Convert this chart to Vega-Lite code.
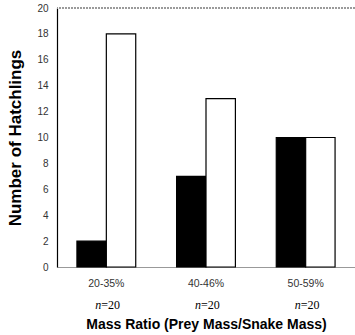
{
  "$schema": "https://vega.github.io/schema/vega-lite/v6.json",
  "autosize": {"type": "none"},
  "padding": {"left": 57, "top": 8, "right": 0, "bottom": 68},
  "width": 298,
  "height": 259,
  "background": "white",
  "config": {
    "view": {"stroke": null},
    "font": "Liberation Sans",
    "axisY": {
      "titleFontSize": 17, "titleFontWeight": "bold", "titleColor": "black",
      "titlePadding": 12,
      "labelOverlap": false,
      "labelFontSize": 10, "labelColor": "#333", "labelPadding": 9,
      "ticks": false, "domainColor": "black", "domainWidth": 1.2, "grid": false
    }
  },
  "data": {"values": [
    {"range": "20-35%", "group": "Group 1", "count": 2},
    {"range": "20-35%", "group": "Group 2", "count": 18},
    {"range": "40-46%", "group": "Group 1", "count": 7},
    {"range": "40-46%", "group": "Group 2", "count": 13},
    {"range": "50-59%", "group": "Group 1", "count": 10},
    {"range": "50-59%", "group": "Group 2", "count": 10}
  ]},
  "encoding": {
    "x": {
      "field": "range", "type": "nominal",
      "scale": {"paddingInner": 0.41, "paddingOuter": 0.2},
      "axis": {
        "title": "Mass Ratio (Prey Mass/Snake Mass)",
        "titleFont": "Liberation Sans", "titleFontSize": 14, "titleFontWeight": "bold", "titleColor": "black",
        "titlePadding": 29,
        "labelAngle": 0, "labelFontSize": 10.5, "labelColor": "#333", "labelPadding": 11,
        "ticks": false, "domainColor": "#999", "domainWidth": 1.2, "grid": false
      }
    }
  },
  "layer": [
    {
      "mark": {"type": "bar", "stroke": "black", "strokeWidth": 1.2},
      "encoding": {
        "xOffset": {"field": "group", "type": "nominal", "scale": {"paddingInner": 0, "paddingOuter": 0}},
        "y": {
          "field": "count", "type": "quantitative",
          "scale": {"domain": [0, 20]},
          "axis": {"title": "Number of Hatchlings", "values": [0, 2, 4, 6, 8, 10, 12, 14, 16, 18, 20]}
        },
        "fill": {"field": "group", "type": "nominal", "scale": {"range": ["black", "white"]}, "legend": null}
      }
    },
    {
      "mark": {"type": "rule", "color": "#999", "strokeDash": [2, 1], "strokeWidth": 1},
      "encoding": {
        "y": {"datum": 20, "type": "quantitative", "axis": {"title": "Number of Hatchlings", "values": [0, 2, 4, 6, 8, 10, 12, 14, 16, 18, 20]}},
        "x": null
      }
    },
    {
      "transform": [{"filter": "datum.group === 'Group 1'"}],
      "mark": {"type": "text", "font": "Liberation Serif", "fontSize": 12, "fontStyle": "italic", "align": "right", "dx": -5, "baseline": "middle", "color": "black"},
      "encoding": {
        "y": {"datum": -2.93, "type": "quantitative", "axis": {"title": "Number of Hatchlings", "values": [0, 2, 4, 6, 8, 10, 12, 14, 16, 18, 20]}},
        "text": {"value": "n"}
      }
    },
    {
      "transform": [{"filter": "datum.group === 'Group 1'"}],
      "mark": {"type": "text", "font": "Liberation Serif", "fontSize": 12, "align": "left", "dx": -5, "baseline": "middle", "color": "black"},
      "encoding": {
        "y": {"datum": -2.93, "type": "quantitative", "axis": {"title": "Number of Hatchlings", "values": [0, 2, 4, 6, 8, 10, 12, 14, 16, 18, 20]}},
        "text": {"value": "=20"}
      }
    }
  ]
}
